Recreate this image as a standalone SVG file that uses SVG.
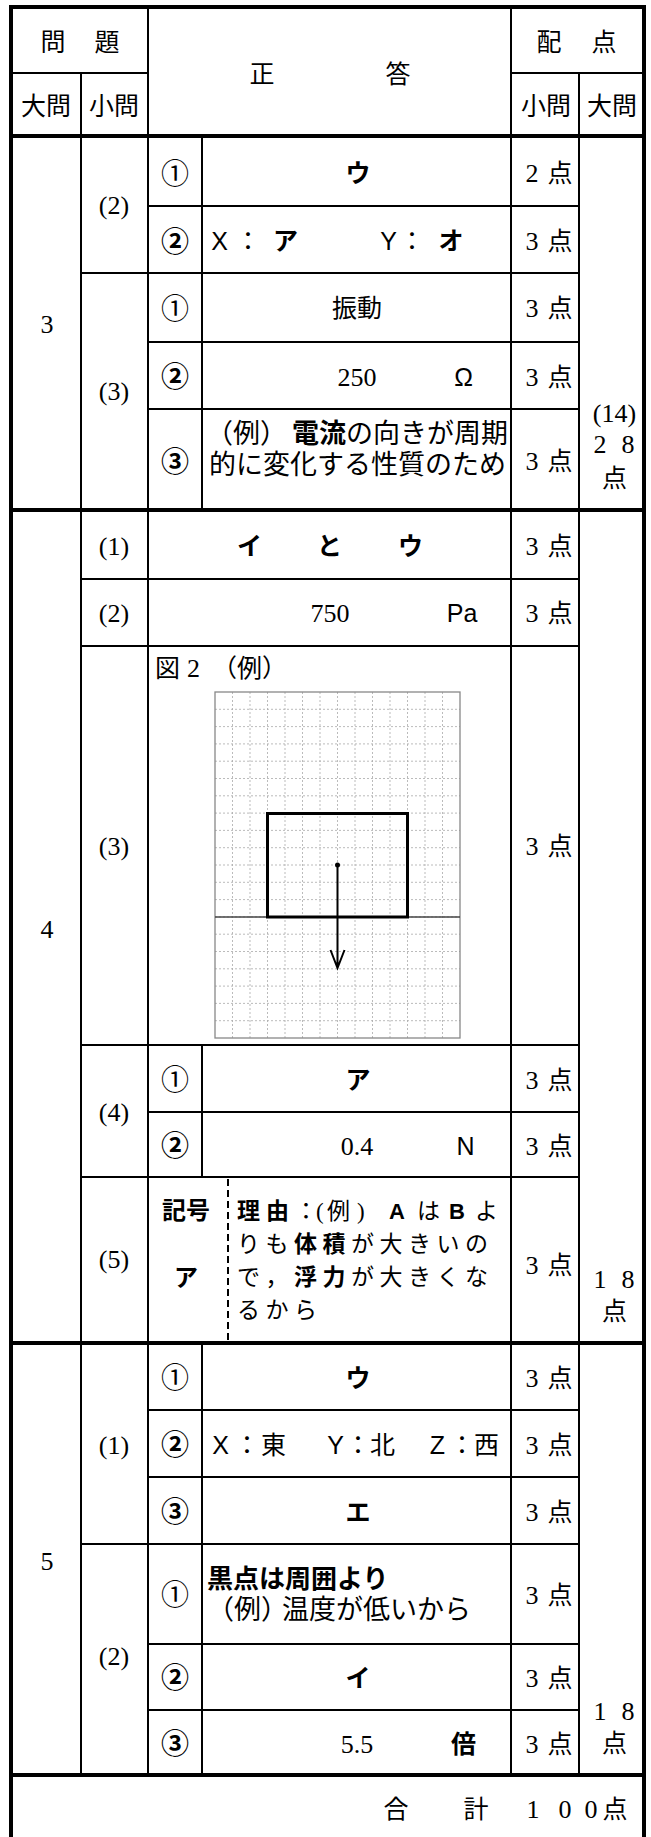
<svg xmlns="http://www.w3.org/2000/svg" width="651" height="1837" viewBox="0 0 651 1837">
<defs>
<style>
.thin{stroke:#000;stroke-width:2;fill:none}
.thick{stroke:#000;stroke-width:4;fill:none}
text{fill:#000}
.m{font-family:"Liberation Sans","Noto Sans CJK JP","Noto Sans CJK SC",sans-serif;font-size:25px;font-weight:400}
.d{font-family:"Liberation Serif","Noto Sans CJK JP",serif;font-size:26px}
.g{font-family:"Liberation Sans","Noto Sans CJK JP","Noto Sans CJK SC",sans-serif;font-size:25px;font-weight:700}
.l{font-family:"Liberation Sans","Noto Sans CJK JP",sans-serif;font-size:25px}
.n{font-family:"Liberation Sans","Noto Sans CJK JP",sans-serif;font-size:28px;text-anchor:middle}
.c{text-anchor:middle}
.b{font-weight:700}
.dot{stroke:#aaa;stroke-width:0.8;stroke-dasharray:2 2;fill:none}
</style>
</defs>
<rect width="651" height="1837" fill="#fff"/>

<g id="lines">
<path class="thick" d="M11,1840 V7 H644 V1840"/>
<path class="thick" d="M11,136 H644 M11,510 H644 M11,1343 H644 M11,1775 H644"/>
<path class="thin" d="M11,73 H148 M511,73 H644 M148,7 V136 M511,7 V136 M81,73 V136 M579,73 V136"/>
<path class="thin" d="M81,136 V1775 M148,136 V1775 M511,136 V1775 M579,136 V1775"/>
<path class="thin" d="M202,136 V510 M202,1045 V1177 M202,1343 V1775"/>
<path class="thin" d="M148,206 H579 M81,273 H579 M148,342 H579 M148,409 H579"/>
<path class="thin" d="M81,579 H579 M81,646 H579 M81,1045 H579 M148,1112 H579 M81,1177 H579"/>
<path class="thin" d="M148,1410 H579 M148,1477 H579 M81,1544 H579 M148,1644 H579 M148,1710 H579"/>
<path d="M228,1179 V1342" stroke="#000" stroke-width="2" stroke-dasharray="7 4" fill="none"/>
</g>

<g id="header">
<text class="m c" x="53" y="51">問</text>
<text class="m c" x="107" y="51">題</text>
<text class="m c" x="262" y="83">正</text>
<text class="m c" x="398" y="83">答</text>
<text class="m c" x="549" y="51">配</text>
<text class="m c" x="604" y="51">点</text>
<text class="m c" x="46" y="115">大問</text>
<text class="m c" x="114" y="115">小問</text>
<text class="m c" x="546" y="115">小問</text>
<text class="m c" x="612" y="115">大問</text>
</g>

<g id="q3">
<text class="d c" x="47" y="333">3</text>
<text class="d c" x="114" y="214">(2)</text>
<text class="d c" x="114" y="400">(3)</text>
<text class="n" x="175" y="184">①</text>
<text class="n b" x="175" y="252">②</text>
<text class="n" x="175" y="319">①</text>
<text class="n b" x="175" y="387">②</text>
<text class="n b" x="175" y="472">③</text>
<text class="g c" x="358" y="182">ウ</text>
<text class="l c" x="219.5" y="250">X</text>
<text class="m c" x="248" y="250">：</text>
<text class="g c" x="285.5" y="250">ア</text>
<text class="l c" x="388.5" y="250">Y</text>
<text class="m c" x="412" y="250">：</text>
<text class="g c" x="451" y="250">オ</text>
<text class="m c" x="357" y="317">振動</text>
<text class="d c" x="357" y="386">250</text>
<text class="l c" x="463.5" y="386">Ω</text>
<text class="m" style="font-size:27px"><tspan x="206" y="443">（例）</tspan><tspan x="292" y="443" font-weight="700">電流</tspan><tspan>の向きが周期</tspan><tspan x="209" y="474">的に変化する性質のため</tspan></text>
<text class="d c" x="532" y="182">2</text><text class="m c" x="560" y="182">点</text>
<text class="d c" x="532" y="250">3</text><text class="m c" x="560" y="250">点</text>
<text class="d c" x="532" y="317">3</text><text class="m c" x="560" y="317">点</text>
<text class="d c" x="532" y="386">3</text><text class="m c" x="560" y="386">点</text>
<text class="d c" x="532" y="470">3</text><text class="m c" x="560" y="470">点</text>
<text class="d c"><tspan x="614.5" y="422">(14)</tspan><tspan x="600" y="453">2</tspan><tspan x="628" y="453">8</tspan><tspan class="m" style="font-size:25px" x="614.5" y="487">点</tspan></text>
</g>

<g id="q4">
<text class="d c" x="47" y="938">4</text>
<text class="d c" x="114" y="555">(1)</text>
<text class="g c" x="249.5" y="555">イ</text>
<text class="g c" x="329.5" y="555">と</text>
<text class="g c" x="410.5" y="555">ウ</text>
<text class="d c" x="532" y="555">3</text><text class="m c" x="560" y="555">点</text>
<text class="d c" x="114" y="622">(2)</text>
<text class="d c" x="330" y="622">750</text>
<text class="l c" x="462" y="622">Pa</text>
<text class="d c" x="532" y="622">3</text><text class="m c" x="560" y="622">点</text>
<text class="d c" x="114" y="855">(3)</text>
<text class="d c" x="532" y="855">3</text><text class="m c" x="560" y="855">点</text>
<text class="m" x="155" y="677">図<tspan class="d" x="187">2</tspan><tspan x="212">（例）</tspan></text>
<g id="figure2">
<path class="dot" d="M232.5,692V1038 M250,692V1038 M267.5,692V1038 M285,692V1038 M302.5,692V1038 M320,692V1038 M337.5,692V1038 M355,692V1038 M372.5,692V1038 M390,692V1038 M407.5,692V1038 M425,692V1038 M442.5,692V1038"/>
<path class="dot" d="M215,709.3H460 M215,726.6H460 M215,743.9H460 M215,761.2H460 M215,778.5H460 M215,795.8H460 M215,813.1H460 M215,830.4H460 M215,847.7H460 M215,865H460 M215,882.3H460 M215,899.6H460 M215,916.9H460 M215,934.2H460 M215,951.5H460 M215,968.8H460 M215,986.1H460 M215,1003.4H460 M215,1020.7H460"/>
<rect x="215" y="692" width="245" height="346" fill="none" stroke="#888" stroke-width="1.3"/>
<path d="M215,917 H460" stroke="#444" stroke-width="1.5" fill="none"/>
<rect x="267.5" y="813.5" width="140" height="103.5" fill="none" stroke="#000" stroke-width="3"/>
<circle cx="337.5" cy="865" r="2.5" fill="#000"/>
<path d="M337.5,865 V968 M330.5,950 L337.5,968 L344.5,950" stroke="#000" stroke-width="2" fill="none"/>
</g>
<text class="d c" x="114" y="1121">(4)</text>
<text class="n" x="175" y="1090">①</text>
<text class="g c" x="358" y="1089">ア</text>
<text class="d c" x="532" y="1089">3</text><text class="m c" x="560" y="1089">点</text>
<text class="n b" x="175" y="1156">②</text>
<text class="d c" x="357" y="1155">0.4</text>
<text class="l c" x="465.5" y="1155">N</text>
<text class="d c" x="532" y="1155">3</text><text class="m c" x="560" y="1155">点</text>
<text class="d c" x="114" y="1268">(5)</text>
<text class="g c" style="font-size:24px" x="186" y="1219">記号</text>
<text class="g c" style="font-size:24px" x="186" y="1286">ア</text>
<text class="m" style="font-size:23px"><tspan font-weight="700" x="237" y="1219">理</tspan><tspan font-weight="700" x="266" y="1219">由</tspan><tspan x="294.5" y="1219">：</tspan><tspan class="d" style="font-size:23px" x="316" y="1219">(</tspan><tspan x="327" y="1219">例</tspan><tspan class="d" style="font-size:23px" x="357" y="1219">)</tspan><tspan class="l b" style="font-size:22px" x="389" y="1219">A</tspan><tspan x="417" y="1219">は</tspan><tspan class="l b" style="font-size:22px" x="449" y="1219">B</tspan><tspan x="475" y="1219">よ</tspan><tspan x="237 265.5" y="1252">りも</tspan><tspan font-weight="700" x="294 322.5" y="1252">体積</tspan><tspan x="351 379.5 408 436.5 465" y="1252">が大きいの</tspan><tspan x="237 265.5" y="1285">で，</tspan><tspan font-weight="700" x="294 322.5" y="1285">浮力</tspan><tspan x="351 379.5 408 436.5 465" y="1285">が大きくな</tspan><tspan x="237 265.5 294" y="1318">るから</tspan></text>
<text class="d c" x="532" y="1274">3</text><text class="m c" x="560" y="1274">点</text>
<text class="d c"><tspan x="600" y="1288">1</tspan><tspan x="628" y="1288">8</tspan><tspan class="m" style="font-size:25px" x="614.5" y="1320">点</tspan></text>
</g>

<g id="q5">
<text class="d c" x="47" y="1570">5</text>
<text class="d c" x="114" y="1454">(1)</text>
<text class="d c" x="114" y="1665">(2)</text>
<text class="n" x="175" y="1388">①</text>
<text class="g c" x="358" y="1387">ウ</text>
<text class="d c" x="532" y="1387">3</text><text class="m c" x="560" y="1387">点</text>
<text class="n b" x="175" y="1455">②</text>
<text class="l c" x="220.5" y="1454">X</text>
<text class="m c" x="247" y="1454">：</text>
<text class="m c" x="273.5" y="1454">東</text>
<text class="l c" x="335.5" y="1454">Y</text>
<text class="m c" x="358" y="1454">：</text>
<text class="m c" x="382.5" y="1454">北</text>
<text class="l c" x="437.5" y="1454">Z</text>
<text class="m c" x="462" y="1454">：</text>
<text class="m c" x="486.5" y="1454">西</text>
<text class="d c" x="532" y="1454">3</text><text class="m c" x="560" y="1454">点</text>
<text class="n b" x="175" y="1522">③</text>
<text class="g c" x="358" y="1521">エ</text>
<text class="d c" x="532" y="1521">3</text><text class="m c" x="560" y="1521">点</text>
<text class="n" x="175" y="1605">①</text>
<text class="m" style="font-size:27px"><tspan font-weight="700" style="font-size:26px" x="207" y="1588">黒点は周囲より</tspan><tspan x="207" y="1619">（例）</tspan><tspan x="282" y="1619">温度が低いから</tspan></text>
<text class="d c" x="532" y="1604">3</text><text class="m c" x="560" y="1604">点</text>
<text class="n b" x="175" y="1688">②</text>
<text class="g c" x="358" y="1687">イ</text>
<text class="d c" x="532" y="1687">3</text><text class="m c" x="560" y="1687">点</text>
<text class="n b" x="175" y="1754">③</text>
<text class="d c" x="357" y="1753">5.5</text>
<text class="g c" x="463.5" y="1753">倍</text>
<text class="d c" x="532" y="1753">3</text><text class="m c" x="560" y="1753">点</text>
<text class="d c"><tspan x="600" y="1720">1</tspan><tspan x="628" y="1720">8</tspan><tspan class="m" style="font-size:25px" x="614.5" y="1752">点</tspan></text>
</g>

<g id="total">
<text class="m c" x="396" y="1818">合</text>
<text class="m c" x="476" y="1818">計</text>
<text class="d c" x="533" y="1818">1</text>
<text class="d c" x="565" y="1818">0</text>
<text class="d c" x="591" y="1818">0</text>
<text class="m c" x="615" y="1818">点</text>
</g>
</svg>
